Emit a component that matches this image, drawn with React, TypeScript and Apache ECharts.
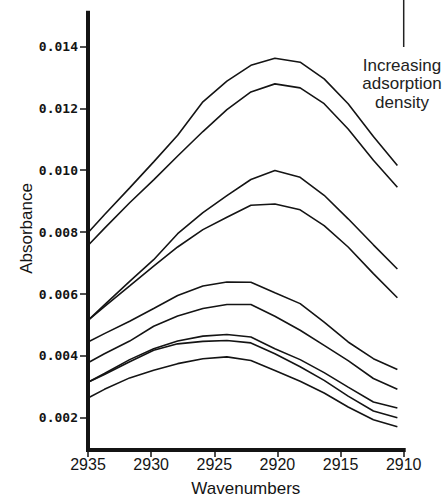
import React, { useEffect, useRef } from "react";
import * as echarts from "echarts";

const wavenumbers = [2935, 2933.7, 2931.7, 2929.8, 2927.9, 2925.9, 2924.0, 2922.1, 2920.2, 2918.2, 2916.3, 2914.4, 2912.4, 2910.5];

const curve1 = [0.00798, 0.00856, 0.00943, 0.01027, 0.01113, 0.01221, 0.01288, 0.01339, 0.01362, 0.01349, 0.01295, 0.01215, 0.01109, 0.01015];
const curve2 = [0.00757, 0.00812, 0.00895, 0.00969, 0.01046, 0.01125, 0.01196, 0.01253, 0.01279, 0.01266, 0.01215, 0.01133, 0.01032, 0.00945];
const curve3 = [0.00515, 0.00565, 0.00641, 0.00711, 0.00795, 0.00863, 0.00918, 0.0097, 0.00999, 0.00977, 0.00919, 0.00843, 0.00759, 0.00681];
const curve4 = [0.00515, 0.00559, 0.00626, 0.0069, 0.00752, 0.00808, 0.00848, 0.00887, 0.00891, 0.00872, 0.00821, 0.00752, 0.00666, 0.00588];
const curve5 = [0.00445, 0.00472, 0.00512, 0.00553, 0.00595, 0.00626, 0.00639, 0.00638, 0.00604, 0.00569, 0.00509, 0.00445, 0.00391, 0.00356];
const curve6 = [0.00378, 0.00407, 0.00448, 0.00496, 0.00529, 0.00553, 0.00566, 0.00566, 0.00528, 0.00483, 0.00434, 0.00385, 0.00327, 0.00292];
const curve7 = [0.00315, 0.00343, 0.00388, 0.00423, 0.00448, 0.00464, 0.00469, 0.00461, 0.00423, 0.00388, 0.00346, 0.00299, 0.00251, 0.00232];
const curve8 = [0.00315, 0.0034, 0.00381, 0.00418, 0.00439, 0.00447, 0.0045, 0.00442, 0.00407, 0.00365, 0.00321, 0.0027, 0.00222, 0.002];
const curve9 = [0.00264, 0.00292, 0.00329, 0.00354, 0.00375, 0.00391, 0.00397, 0.00385, 0.00353, 0.00318, 0.0028, 0.00235, 0.00194, 0.00171];

const curves = [curve1, curve2, curve3, curve4, curve5, curve6, curve7, curve8, curve9];

const yTickValues = [0.002, 0.004, 0.006, 0.008, 0.01, 0.012, 0.014];
const xTickValues = [2910, 2915, 2920, 2925, 2930, 2935];
const annotationLines = ["Increasing", "adsorption", "density"];
const xAxisTitle = "Wavenumbers";
const yAxisTitle = "Absorbance";

const INK = "#141414";

export default function App() {
  const ref = useRef<HTMLDivElement>(null);
  useEffect(() => {
    const chart = echarts.init(ref.current!, null, { renderer: "svg" });
    chart.setOption({
      animation: false,
      backgroundColor: "#ffffff",
      grid: { left: 88, right: 40.3, top: 12.7, bottom: 45.3 },
      xAxis: {
        type: "value",
        inverse: true,
        min: 2910,
        max: 2935,
        name: xAxisTitle,
        nameLocation: "middle",
        nameGap: 30,
        nameTextStyle: { fontFamily: "Liberation Sans, Arial, sans-serif", fontSize: 17, color: INK },
        axisLine: { show: true, lineStyle: { color: INK, width: 4, cap: "square" } },
        axisTick: { show: true, length: 7, lineStyle: { color: INK, width: 1.5 }, customValues: xTickValues },
        axisLabel: {
          customValues: xTickValues,
          margin: 6,
          fontFamily: "'Liberation Sans Narrow', 'Arial Narrow', 'Liberation Sans', sans-serif",
          fontSize: 16,
          color: INK,
          formatter: (v: number) => String(v),
        },
        splitLine: { show: false },
      },
      yAxis: {
        type: "value",
        min: 0.00096,
        max: 0.01509,
        axisLine: { show: true, lineStyle: { color: INK, width: 4, cap: "square" } },
        axisTick: { show: true, length: 8, lineStyle: { color: INK, width: 1.5 }, customValues: yTickValues },
        axisLabel: {
          customValues: yTickValues,
          margin: 10,
          fontFamily: "'DejaVu Sans Mono', monospace",
          fontSize: 13,
          fontWeight: "bold",
          color: INK,
          formatter: (v: number) => v.toFixed(3),
        },
        splitLine: { show: false },
      },
      graphic: [
        {
          type: "text",
          x: 26,
          y: 228.5,
          rotation: Math.PI / 2,
          style: {
            text: yAxisTitle,
            fontFamily: "Liberation Sans, Arial, sans-serif",
            fontSize: 17,
            fill: INK,
            align: "center",
            verticalAlign: "middle",
          },
        },
        {
          type: "line",
          shape: { x1: 403.7, y1: 0, x2: 403.7, y2: 47 },
          style: { stroke: "#222", lineWidth: 1.5 },
        },
        ...annotationLines.map((t, i) => ({
          type: "text",
          x: 402,
          y: 65 + i * 18.5,
          style: {
            text: t,
            fontFamily: "Liberation Sans, Arial, sans-serif",
            fontSize: 17,
            fill: "#222",
            align: "center",
            verticalAlign: "middle",
          },
        })),
      ],
      series: curves.map((c, i) => ({
        type: "line",
        name: "curve" + (i + 1),
        data: wavenumbers.map((w, j) => [w, c[j]]),
        symbol: "none",
        smooth: false,
        lineStyle: { color: INK, width: 1.6 },
        silent: true,
      })),
    });
    return () => chart.dispose();
  }, []);
  return <div ref={ref} style={{ position: "absolute", left: 0, top: 0, width: 444, height: 502 }} />;
}
